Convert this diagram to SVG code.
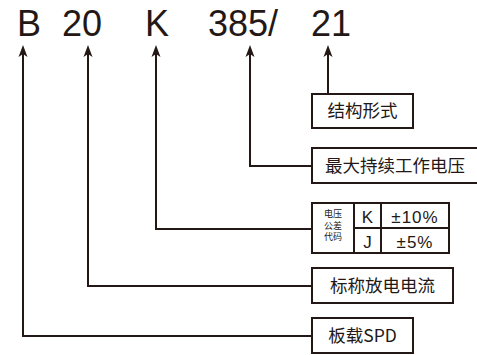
<svg xmlns="http://www.w3.org/2000/svg" width="477" height="355" viewBox="0 0 477 355">
<defs>
<style>
.ln{fill:none;stroke:#231815;stroke-width:2}
.bx{fill:#fff;stroke:#231815;stroke-width:2}
.big{font-family:"Liberation Sans",Arial,sans-serif;font-size:36px;fill:#231815}
.cn{font-family:"Noto Sans CJK SC","Liberation Sans",sans-serif;font-size:17.5px;fill:#231815}
.sm{font-family:"Noto Sans CJK SC","Liberation Sans",sans-serif;font-size:9px;fill:#231815}
.tb{font-family:"Liberation Sans","Noto Sans CJK SC",sans-serif;font-size:17px;fill:#231815}
</style>
<path id="ah" d="M0,0 L-4.5,12 L0,9 L4.5,12 Z" fill="#231815"/>
</defs>
<g id="code" class="big">
<text x="17" y="36">B</text>
<text x="62" y="36">20</text>
<text x="145" y="36">K</text>
<text x="208" y="36">385/</text>
<text x="311" y="36">21</text>
</g>
<g id="connectors">
<path class="ln" d="M23,50 V336 H312"/>
<path class="ln" d="M88,50 V286 H312"/>
<path class="ln" d="M156,50 V229 H312"/>
<path class="ln" d="M250,50 V166 H312"/>
<path class="ln" d="M328,50 V94"/>
<use href="#ah" x="23" y="45"/>
<use href="#ah" x="88" y="45"/>
<use href="#ah" x="156" y="45"/>
<use href="#ah" x="250" y="45"/>
<use href="#ah" x="328" y="45"/>
</g>
<g id="n-structure">
<rect class="bx" x="312" y="94" width="101" height="34"/>
<text class="cn" x="362.5" y="117" text-anchor="middle">结构形式</text>
</g>
<g id="n-voltage">
<rect class="bx" x="312" y="148" width="168" height="35"/>
<text class="cn" x="395" y="172" text-anchor="middle">最大持续工作电压</text>
</g>
<g id="n-tolerance">
<rect class="bx" x="312" y="203" width="137" height="50"/>
<path class="ln" d="M354,203 V253 M381,203 V253 M354,228 H449"/>
<text class="sm" x="333" y="217" text-anchor="middle">电压</text>
<text class="sm" x="333" y="228.5" text-anchor="middle">公差</text>
<text class="sm" x="333" y="240" text-anchor="middle">代码</text>
<text class="tb" x="367.5" y="223" text-anchor="middle">K</text>
<text class="tb" x="415" y="223" text-anchor="middle" letter-spacing="1">±10%</text>
<text class="tb" x="367.5" y="248" text-anchor="middle">J</text>
<text class="tb" x="415" y="248" text-anchor="middle" letter-spacing="1">±5%</text>
</g>
<g id="n-current">
<rect class="bx" x="312" y="268" width="141" height="35"/>
<text class="cn" x="382.5" y="292" text-anchor="middle">标称放电电流</text>
</g>
<g id="n-spd">
<rect class="bx" x="312" y="318" width="101" height="35"/>
<text class="cn" x="362.5" y="342" text-anchor="middle">板载SPD</text>
</g>
</svg>
